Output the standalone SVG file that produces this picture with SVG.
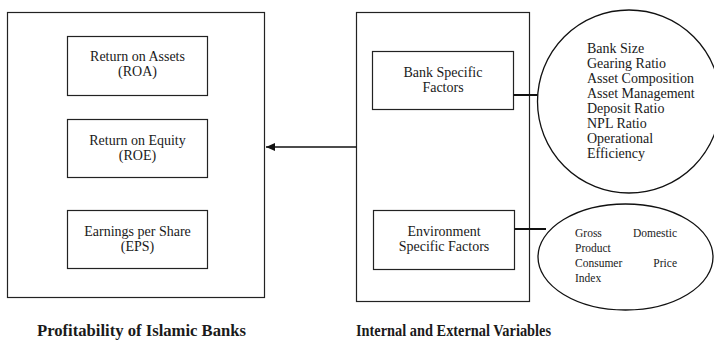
<svg xmlns="http://www.w3.org/2000/svg" width="714" height="341" viewBox="0 0 714 341">
<style>
.box{fill:#fff;stroke:#222;stroke-width:1.2}
.oval{fill:#fff;stroke:#111;stroke-width:1.3}
text{font-family:"Liberation Serif","Times New Roman",serif;fill:#1a1a1a}
.t{font-size:14px;text-anchor:middle}
.l{font-size:14px}
.s{font-size:11.5px}
.b{font-size:16px;font-weight:bold}
.conn{stroke:#111;stroke-width:2;fill:none}
.arr{stroke:#111;stroke-width:1.5;fill:none}
</style>
<defs>
<marker id="ah" markerWidth="10" markerHeight="10" refX="9" refY="5" orient="auto" markerUnits="userSpaceOnUse">
<path d="M0,1 L9,5 L0,9 Z" fill="#111"/>
</marker>
</defs>
<rect width="714" height="341" fill="#fff"/>
<g id="profitability">
<rect class="box" x="7.5" y="12.5" width="257" height="285"/>
<text class="b" x="37" y="336" textLength="209" lengthAdjust="spacingAndGlyphs">Profitability of Islamic Banks</text>
</g>
<g id="roa">
<rect class="box" x="67.5" y="36.5" width="140" height="59"/>
<text class="t" x="137.5" y="61">Return on Assets</text>
<text class="t" x="137.5" y="76">(ROA)</text>
</g>
<g id="roe">
<rect class="box" x="67.5" y="119.5" width="140" height="58"/>
<text class="t" x="137.5" y="145">Return on Equity</text>
<text class="t" x="137.5" y="160">(ROE)</text>
</g>
<g id="eps">
<rect class="box" x="67.5" y="210.5" width="140" height="58"/>
<text class="t" x="137.5" y="236">Earnings per Share</text>
<text class="t" x="137.5" y="251">(EPS)</text>
</g>
<g id="variables">
<rect class="box" x="356.5" y="12.5" width="173" height="289"/>
<text class="b" x="356" y="336" textLength="195" lengthAdjust="spacingAndGlyphs">Internal and External Variables</text>
</g>
<g id="bank-specific">
<rect class="box" x="372.5" y="51.5" width="141" height="58"/>
<text class="t" x="443" y="77">Bank Specific</text>
<text class="t" x="443" y="92">Factors</text>
</g>
<g id="environment-specific">
<rect class="box" x="373.5" y="210.5" width="141" height="59"/>
<text class="t" x="444" y="236">Environment</text>
<text class="t" x="444" y="251">Specific Factors</text>
</g>
<g id="connectors">
<line class="arr" x1="356.5" y1="147" x2="266" y2="147" marker-end="url(#ah)"/>
<line class="conn" x1="513.5" y1="95" x2="538" y2="95"/>
<line class="conn" x1="514.5" y1="229" x2="546" y2="229"/>
</g>
<g id="bank-factors-list">
<ellipse class="oval" cx="629" cy="101.5" rx="91.5" ry="91.5"/>
<text class="l" x="587" y="53">Bank Size</text>
<text class="l" x="587" y="68">Gearing Ratio</text>
<text class="l" x="587" y="83">Asset Composition</text>
<text class="l" x="587" y="98">Asset Management</text>
<text class="l" x="587" y="113">Deposit Ratio</text>
<text class="l" x="587" y="128">NPL Ratio</text>
<text class="l" x="587" y="143">Operational</text>
<text class="l" x="587" y="158">Efficiency</text>
</g>
<g id="environment-factors-list">
<ellipse class="oval" cx="625.5" cy="257" rx="87.5" ry="53"/>
<text class="s" x="575" y="237">Gross</text>
<text class="s" x="677" y="237" text-anchor="end">Domestic</text>
<text class="s" x="575" y="252">Product</text>
<text class="s" x="575" y="267">Consumer</text>
<text class="s" x="677" y="267" text-anchor="end">Price</text>
<text class="s" x="575" y="282">Index</text>
</g>
</svg>
